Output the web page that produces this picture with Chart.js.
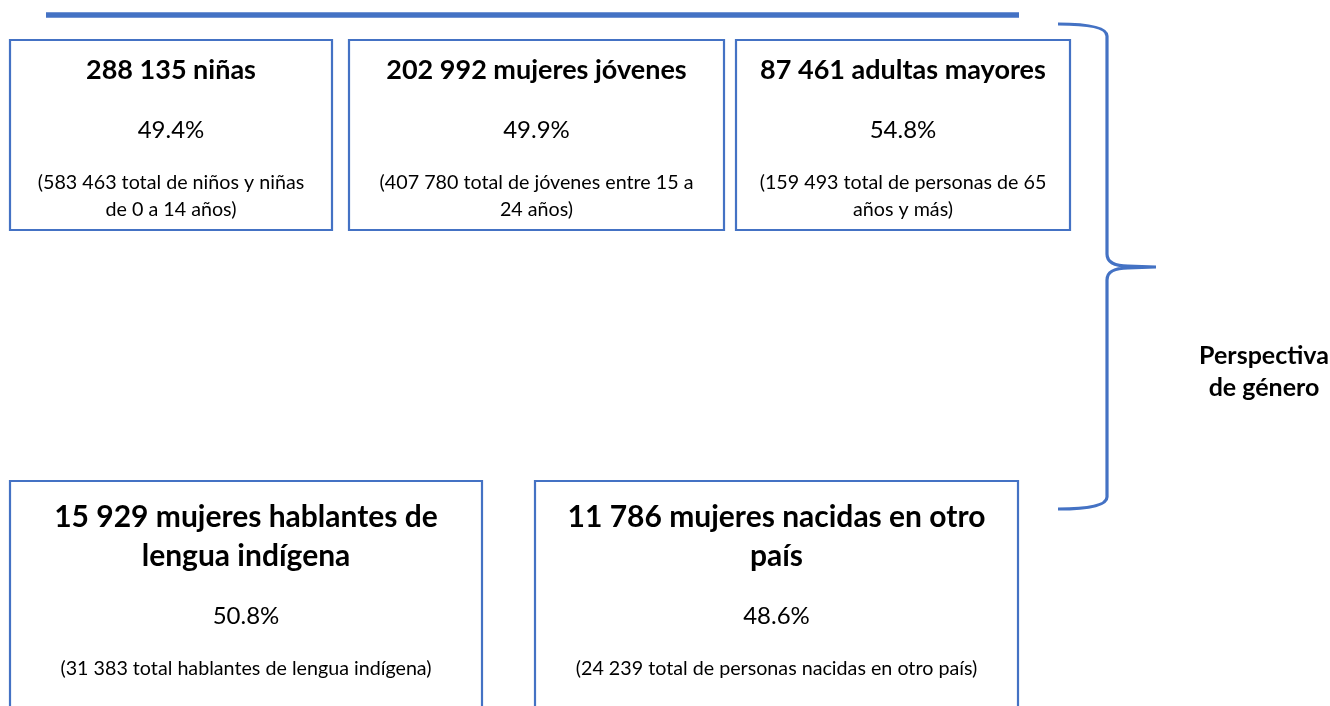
<!DOCTYPE html>
<html lang="es">
<head>
<meta charset="utf-8">
<title>Perspectiva de género</title>
<script src="https://cdn.jsdelivr.net/npm/chart.js@4/dist/chart.umd.min.js"></script>
<style>
    html, body { margin: 0; padding: 0; background: #ffffff; }
    #contenedor { position: relative; width: 1330px; height: 706px; }
</style>
</head>
<body>
<div id="contenedor"><canvas id="canvasPerspectiva"></canvas></div>
<script>
// datos de cada recuadro
var cantidades = [288135, 202992, 87461, 15929, 11786];
var grupos = ['niñas', 'mujeres jóvenes', 'adultas mayores', 'mujeres hablantes de\nlengua indígena', 'mujeres nacidas en otro\npaís'];
var porcentajes = [49.4, 49.9, 54.8, 50.8, 48.6];
var totales = [583463, 407780, 159493, 31383, 24239];
var descripciones = [
    'total de niños y niñas\nde 0 a 14 años',
    'total de jóvenes entre 15 a\n24 años',
    'total de personas de 65\naños y más',
    'total hablantes de lengua indígena',
    'total de personas nacidas en otro país'
];
var etiquetaLlave = ['Perspectiva', 'de género'];

// posicion de los recuadros (x0, y0, x1, y1) en unidades de la escala
var cajas = [
    [10, 40, 332, 230],
    [349, 40, 724, 230],
    [736, 40, 1070, 230],
    [10, 481, 482, 740],
    [535, 481, 1018, 740]
];
var azul = '#4472C4';
var fuente = 'Lato, "Open Sans", sans-serif';

function formatoMiles(n) {
    return n.toString().replace(/\B(?=(\d{3})+(?!\d))/g, ' ');
}

var datasets = [];
for (let i = 0; i < cajas.length; i++) {
    let c = cajas[i];
    datasets = [...datasets, {
        data: [
            { x: c[0], y: c[1] }, { x: c[2], y: c[1] },
            { x: c[2], y: c[3] }, { x: c[0], y: c[3] },
            { x: c[0], y: c[1] }
        ],
        borderColor: azul,
        borderWidth: 2.2,
        borderCapStyle: 'square',
        borderJoinStyle: 'miter',
        pointRadius: 0,
        showLine: true,
        fill: false,
        tension: 0
    }];
}
// linea superior
datasets = [...datasets, {
    data: [{ x: 46, y: 15 }, { x: 1019, y: 15 }],
    borderColor: azul,
    borderWidth: 5.5,
    pointRadius: 0,
    showLine: true,
    fill: false
}];

var textosPlugin = {
    id: 'textos',
    afterDatasetsDraw: function (chart) {
        let ctx = chart.ctx;
        let sx = chart.scales.x;
        let sy = chart.scales.y;
        let px = function (v) { return sx.getPixelForValue(v); };
        let py = function (v) { return sy.getPixelForValue(v); };

        ctx.save();
        // llave
        ctx.strokeStyle = azul;
        ctx.lineWidth = 3.2;
        ctx.lineCap = 'butt';
        ctx.beginPath();
        ctx.moveTo(px(1058), py(24));
        ctx.quadraticCurveTo(px(1107), py(24), px(1107), py(36));
        ctx.lineTo(px(1107), py(254));
        ctx.quadraticCurveTo(px(1107), py(266), px(1128), py(266));
        ctx.lineTo(px(1156), py(267));
        ctx.moveTo(px(1156), py(267));
        ctx.lineTo(px(1128), py(268));
        ctx.quadraticCurveTo(px(1107), py(268), px(1107), py(280));
        ctx.lineTo(px(1107), py(497));
        ctx.quadraticCurveTo(px(1107), py(509), px(1058), py(509));
        ctx.stroke();

        ctx.fillStyle = '#000000';
        ctx.textAlign = 'center';
        ctx.textBaseline = 'middle';
        for (let i = 0; i < cajas.length; i++) {
            let c = cajas[i];
            let cx = px((c[0] + c[2]) / 2);
            let arriba = i < 3;
            let titulo = (formatoMiles(cantidades[i]) + ' ' + grupos[i]).split('\n');
            let sub = ('(' + formatoMiles(totales[i]) + ' ' + descripciones[i] + ')').split('\n');
            let yTitulo = arriba ? 30 : 36;
            let yPct = arriba ? 90 : 135;
            let ySub = arriba ? 143 : 188;

            ctx.font = 'bold ' + (arriba ? 27 : 30) + 'px ' + fuente;
            titulo.forEach(function (t, k) {
                ctx.fillText(t, cx, py(c[1] + yTitulo + k * 39));
            });
            ctx.font = '24px ' + fuente;
            ctx.fillText(porcentajes[i].toFixed(1) + '%', cx, py(c[1] + yPct));
            ctx.font = '19.7px ' + fuente;
            sub.forEach(function (t, k) {
                ctx.fillText(t, cx, py(c[1] + ySub + k * 27));
            });
        }

        ctx.font = 'bold 25px ' + fuente;
        etiquetaLlave.forEach(function (t, k) {
            ctx.fillText(t, px(1264), py(356 + k * 32));
        });
        ctx.restore();
    }
};

var ctx = document.getElementById('canvasPerspectiva').getContext('2d');
var chartPerspectiva = new Chart(ctx, {
    type: 'scatter',
    data: { datasets: datasets },
    options: {
        responsive: true,
        maintainAspectRatio: false,
        animation: false,
        layout: { padding: 0 },
        plugins: {
            legend: { display: false },
            tooltip: { enabled: false }
        },
        scales: {
            x: { type: 'linear', min: 0, max: 1330, display: false },
            y: { type: 'linear', min: 0, max: 706, reverse: true, display: false }
        }
    },
    plugins: [textosPlugin]
});
</script>
</body>
</html>
